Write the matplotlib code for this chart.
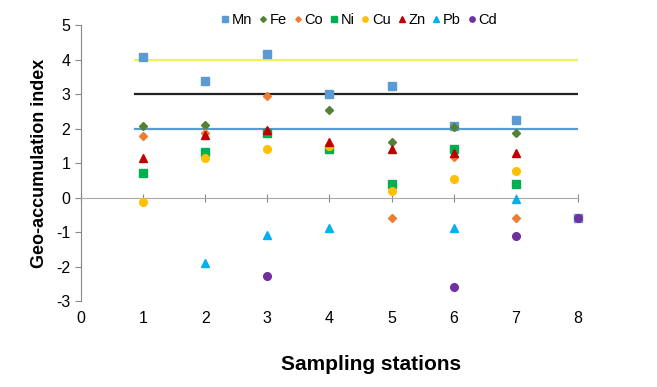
import matplotlib
matplotlib.use("Agg")
import matplotlib.pyplot as plt
import numpy as np

plt.rcParams['font.family'] = ['Liberation Sans', 'DejaVu Sans']
plt.rcParams['axes.unicode_minus'] = False

stations = [1, 2, 3, 4, 5, 6, 7, 8]
nan = np.nan
# values per station (nan = not shown)
Mn = [4.07, 3.38, 4.15, 3.0, 3.23, 2.08, 2.25, -0.6]
Fe = [2.07, 2.1, 1.92, 2.55, 1.6, 2.05, 1.88, nan]
Co = [1.8, 1.88, 2.95, 1.45, -0.58, 1.17, -0.58, nan]
Ni = [0.7, 1.32, 1.87, 1.42, 0.4, 1.42, 0.4, nan]
Cu = [-0.12, 1.15, 1.42, 1.5, 0.2, 0.53, 0.78, nan]
Zn = [1.15, 1.82, 1.95, 1.62, 1.4, 1.3, 1.3, nan]
Pb = [nan, -1.9, -1.07, -0.87, nan, -0.87, -0.05, nan]
Cd = [nan, nan, -2.28, nan, nan, -2.58, -1.12, -0.6]

names = ['Mn', 'Fe', 'Co', 'Ni', 'Cu', 'Zn', 'Pb', 'Cd']
series = [Mn, Fe, Co, Ni, Cu, Zn, Pb, Cd]
markers = ['s', 'D', 'D', 's', 'o', '^', '^', 'o']
sizes = [5.5, 4.2, 4, 5.5, 5.5, 5.5, 5.5, 5.5]
colors = ['#5B9BD5', '#548235', '#ED7D31', '#00B050', '#FFC000', '#C00000', '#00B0F0', '#7030A0']

# class limits
levels = [4, 3, 2]
level_colors = ['#F2F25A', '#222222', '#5B9BD5']
line_x = [0.87, 8]

fig = plt.figure(figsize=(6.57, 3.87), dpi=100)
ax = fig.add_axes([0.123, 0.222, 0.757, 0.713])

for lv, lc in zip(levels, level_colors):
    ax.plot(line_x, [lv, lv], color=lc, lw=1.6, zorder=1)

for name, vals, m, s, c in zip(names, series, markers, sizes, colors):
    ax.plot(stations, vals, linestyle='none', marker=m, markersize=s,
            color=c, label=name, zorder=3, clip_on=False)

ax.set_xlim(0, 8)
ax.set_ylim(-3, 5)
ax.set_yticks(range(-3, 6))
ax.set_xticks(range(0, 9))

ax.spines['top'].set_visible(False)
ax.spines['right'].set_visible(False)
ax.spines['left'].set_color('#888888')
ax.spines['bottom'].set_position(('data', 0))
ax.spines['bottom'].set_color('#aaaaaa')
ax.tick_params(axis='x', direction='inout', length=6, color='#888888', labelbottom=False)
ax.tick_params(axis='y', direction='out', length=4, color='#888888', labelsize=11.5)

sec = ax.secondary_xaxis('bottom')
sec.set_xticks(range(0, 9))
sec.spines['bottom'].set_visible(False)
sec.tick_params(length=0, labelsize=11.5, pad=7)

ax.set_ylabel('Geo-accumulation index', fontsize=13, fontweight='bold', labelpad=6)
fig.text(0.565, 0.045, 'Sampling stations', fontsize=15, fontweight='bold', ha='center')

ax.legend(loc='upper center', bbox_to_anchor=(0.56, 1.09), ncol=8, frameon=False,
          fontsize=10.5, handlelength=0.5, handletextpad=0.2, columnspacing=0.5,
          markerscale=0.7)

fig.savefig('out.png', dpi=100)
